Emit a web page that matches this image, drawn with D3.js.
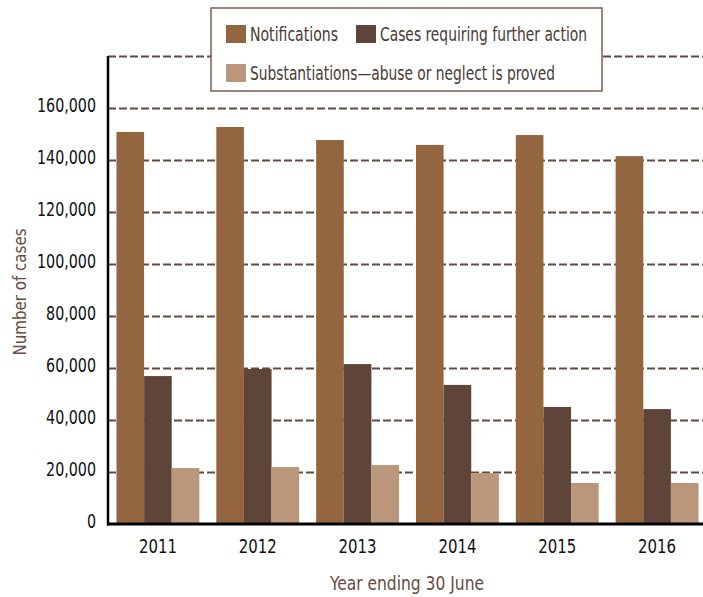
<!DOCTYPE html>
<html>
<head>
<meta charset="utf-8">
<script src="https://cdn.jsdelivr.net/npm/d3@7"></script>
<style>
  body { margin: 0; background: #fff; }
  svg text { font-family: "Liberation Sans Narrow", "DejaVu Sans Condensed", sans-serif; }
</style>
</head>
<body>
<svg id="chart" width="703" height="597"></svg>
<script>
const years = ["2011", "2012", "2013", "2014", "2015", "2016"];
const seriesNames = ["Notifications", "Cases requiring further action", "Substantiations—abuse or neglect is proved"];
const notifications = [150800, 152700, 147700, 145800, 149600, 141500];
const furtherAction = [56900, 59600, 61500, 53500, 45000, 44200];
const substantiations = [21500, 21900, 22700, 19600, 15800, 15800];
const yTicks = [0, 20000, 40000, 60000, 80000, 100000, 120000, 140000, 160000, 180000];
const colors = ["#946640", "#5f4539", "#ba977b"];

const series = [notifications, furtherAction, substantiations];
const svg = d3.select("#chart");

const mLeft = 108, mRight = 707, mTop = 56, mBottom = 524;

const x = d3.scaleBand().domain(years).range([mLeft, mRight]).paddingInner(0.17).paddingOuter(0.085);
const xs = d3.scaleBand().domain(d3.range(series.length)).range([0, x.bandwidth()]);
const y = d3.scaleLinear().domain([0, 180000]).range([mBottom, mTop]);

// gridlines
svg.append("g")
  .attr("transform", `translate(${mLeft},0)`)
  .call(d3.axisLeft(y).tickValues(yTicks.slice(1)).tickSize(-(703 - mLeft)).tickFormat(""))
  .call(g => g.select(".domain").remove())
  .selectAll("line")
    .attr("stroke", "#634a3e")
    .attr("stroke-width", 2)
    .attr("stroke-dasharray", "8,3");

// tick labels (stretched so the widest is ~59px like the original)
const tickText = svg.append("g")
  .attr("transform", `translate(${mLeft},-3)`)
  .call(d3.axisLeft(y).tickValues(yTicks.slice(0, -1)).tickSize(0).tickPadding(12).tickFormat(d3.format(",")))
  .call(g => g.select(".domain").remove())
  .selectAll("text")
    .attr("fill", "#111")
    .style("font-size", "20px");
const widest = d3.max(tickText.nodes(), n => n.getComputedTextLength());
tickText.each(function() {
  const w = this.getComputedTextLength();
  d3.select(this).attr("textLength", w * 59 / widest).attr("lengthAdjust", "spacingAndGlyphs");
});

// bars
years.forEach((yr, i) => {
  series.forEach((vals, s) => {
    svg.append("rect")
      .attr("x", x(yr) + xs(s))
      .attr("y", y(vals[i]))
      .attr("width", xs.bandwidth())
      .attr("height", y(0) - y(vals[i]))
      .attr("fill", colors[s]);
  });
});

// axis lines
svg.append("line")
  .attr("x1", mLeft).attr("x2", mLeft).attr("y1", mTop).attr("y2", mBottom + 1.5)
  .attr("stroke", "#000").attr("stroke-width", 2.5);
svg.append("line")
  .attr("x1", mLeft - 1).attr("x2", 703).attr("y1", mBottom).attr("y2", mBottom)
  .attr("stroke", "#000").attr("stroke-width", 3);

// x labels
svg.append("g")
  .attr("transform", `translate(0,${mBottom})`)
  .call(d3.axisBottom(x).tickSize(0).tickPadding(16))
  .call(g => g.select(".domain").remove())
  .selectAll("text")
    .attr("fill", "#111")
    .attr("textLength", 38)
    .attr("lengthAdjust", "spacingAndGlyphs")
    .style("font-size", "19px");

// axis titles
svg.append("text")
  .attr("x", 407).attr("y", 590)
  .attr("text-anchor", "middle")
  .attr("fill", "#6b4b3f")
  .attr("textLength", 154)
  .attr("lengthAdjust", "spacingAndGlyphs")
  .style("font-size", "19px")
  .text("Year ending 30 June");

svg.append("text")
  .attr("transform", "translate(26,292) rotate(-90)")
  .attr("text-anchor", "middle")
  .attr("fill", "#6b4b3f")
  .attr("textLength", 127)
  .attr("lengthAdjust", "spacingAndGlyphs")
  .style("font-size", "18px")
  .text("Number of cases");

// legend
const legend = svg.append("g");
legend.append("rect")
  .attr("x", 211).attr("y", 8).attr("width", 391).attr("height", 83)
  .attr("fill", "#fff").attr("stroke", "#7d5f52").attr("stroke-width", 1.5);

const legendPos = [[226, 25], [356, 25], [226, 64]];
const legendLen = [88, 207, 305];
seriesNames.forEach((name, s) => {
  const [lx, ly] = legendPos[s];
  legend.append("rect")
    .attr("x", lx).attr("y", ly).attr("width", 20).attr("height", 18)
    .attr("fill", colors[s]);
  legend.append("text")
    .attr("x", lx + 24).attr("y", ly + 16)
    .attr("fill", "#4a3a33")
    .attr("textLength", legendLen[s])
    .attr("lengthAdjust", "spacingAndGlyphs")
    .style("font-size", "19px")
    .text(name);
});
</script>
</body>
</html>
